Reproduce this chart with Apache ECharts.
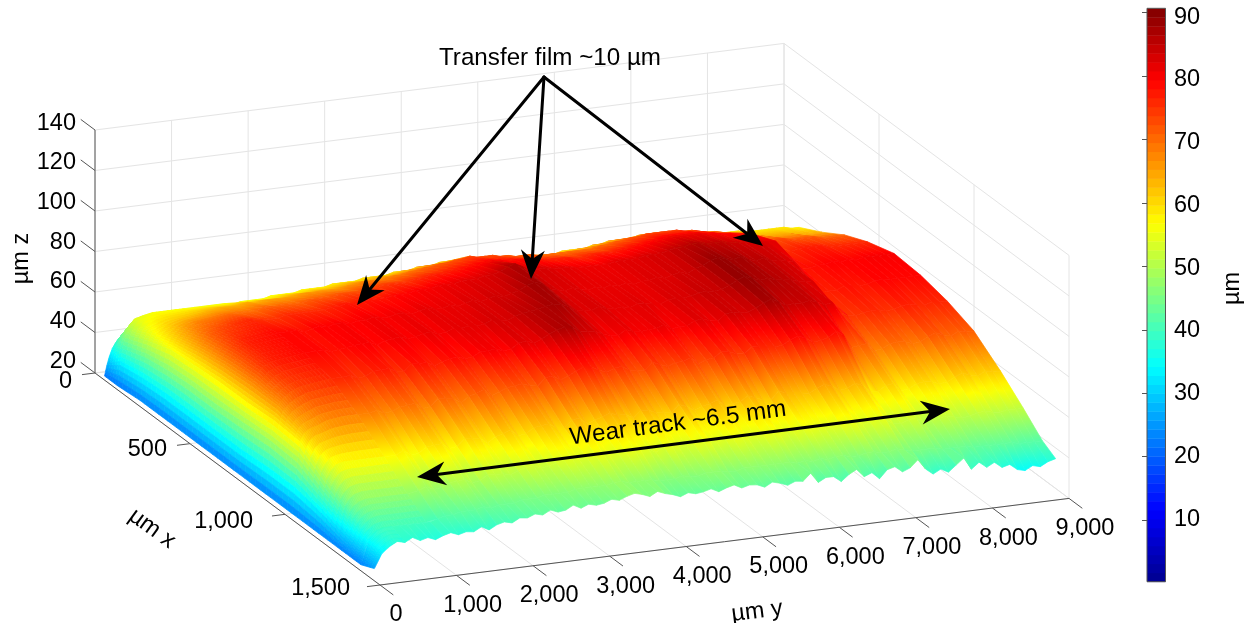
<!DOCTYPE html>
<html><head><meta charset="utf-8">
<style>html,body{margin:0;padding:0;background:#fff}#c{width:1249px;height:623px}</style>
<script src="https://cdn.jsdelivr.net/npm/echarts@6/dist/echarts.min.js"></script>
</head><body><div id="c"></div>
<script>
const xTicks=[0,500,1000,1500];
const yTicks=[0,1000,2000,3000,4000,5000,6000,7000,8000,9000];
const zTicks=[20,40,60,80,100,120,140];
const colourTicks=[10,20,30,40,50,60,70,80,90];
const xNodes=[50,120,240,360,480,620,760,900,1040,1180,1300,1400];
const rimNodes=[0,30,60,100,150,220,320,450,650,850];
const rimZ=[
[22,22,23,23,23,23,23,23,23,23,23,23],
[27,32,34,35,35,35,35,36,36,33,29,27],
[31,40,44,46,47,47,48,49,48,41,35,31],
[35,47,52,56,57,58,58,59,58,49,41,35],
[38,51,56,60,63,65,66,66,62,53,44,37],
[41,54,58,63,67,70,71,69,64,56,46,39],
[43,55,60,66,71,74,75,72,65,57,47,40],
[44,56,61,68,73,77,77,74,67,57,47,40],
[45,56,62,69,75,78,78,75,68,57,47,40],
[46,56,63,70,76,79,79,76,68,57,47,40]];
const trackStart=1000, trackStep=100;
const trackZ=[
[46,56,64,70,75,79,79,76,68,57,48,41],
[46,56,64,70,75,79,79,76.5,69,59,49.5,42],
[46,56,64,70,75,78,78,74.5,67,56,47.5,42],
[46,56,64,71,76,79,78.5,75,67.5,56.5,48,43],
[46,56,65,71,76,80,79,77,69,59,50,43],
[46,55,64,71,76,79,79.5,77,69.5,59.5,50,43],
[46,56,65,71,76,80,80,77.5,70,60,50.5,44],
[46,56,65,71,76,80,80,75.5,67,57,48.5,43],
[46,56,65,71,76,79,78.5,75,67.5,57.5,49,44],
[47,56,65,72,77,80,80,78.5,71,61,51.5,44],
[47,57,65,72,77,80,80.5,78,70.5,60.5,51,44],
[47,57,66,72,78,81,81,78,70,60,51,45],
[47,57,66,72,77,80,79.5,76,67.5,57.5,50,45],
[47,57,66,73,78,80,80,77.5,70,60,51.5,45],
[48,58,66,73,78,81,81,78.5,71,61,52.5,46],
[48,58,66,73,78,81,81.5,79,72.5,62.5,53,46],
[48,58,66,73,78,80,80,77.5,69,59,51.5,46],
[48,58,67,74,79,81,80.5,78,70.5,59.5,52,46],
[48,59,67,74,79,82,82,80,72,62,53,47],
[48,59,68,75,79,81,81.5,80,72.5,62.5,54,47],
[49,59,68,75,80,81,82,80.5,73,63,54.5,47],
[49,59,68,75,80,82,81.5,79,71.5,60.5,53,47],
[49,60,68,75,80,81,82,79.5,71,60,53.5,47],
[49,60,69,76,81,82,83.5,82,74.5,63.5,55,48],
[50,60,69,76,81,83,83,82.5,75,64,55.5,48],
[50,60,70,77,81,82,82.5,81,72.5,60.5,53,47],
[50,61,70,77,82,83,84,82.5,74,62,54.5,47],
[50,61,71,77,82,84,85,84.5,76,63,54.5,47],
[51,61,71,78,82,83,85.5,86,77.5,64.5,56,47],
[51,62,72,78,83,84,86,87,77,63,54,46],
[51,62,72,79,83,85,87,86.5,75,63,54.5,46],
[51,62,73,79,84,87,87.5,84,73.5,60.5,52,46],
[52,63,73,80,86,88,87,83.5,75,64,54.5,47],
[52,63,74,80,87,87,85.5,83,75.5,63.5,55,46],
[52,63,73,80,85,84,83,81,73,62,53,46],
[52,63,73,79,83,83,82.5,80,72.5,61.5,53,47],
[51,62,73,79,83,82,82,79.5,72,61,53.5,47],
[51,62,72,79,83,83,83.5,82,75.5,64.5,56,47],
[51,62,72,78,82,82,82,80.5,74,63,54.5,46],
[51,62,71,78,82,81,81.5,80,72.5,60.5,53,46],
[50,61,71,77,82,82,82,80.5,74,62,54.5,47],
[50,61,71,77,81,81,81,80.5,74,63,54.5,47],
[50,61,70,77,81,82,82.5,82,75.5,64.5,56,47],
[50,61,70,77,81,81,82,79.5,72,61,53.5,47],
[50,60,70,76,81,82,81.5,80,73.5,61.5,54,47],
[50,60,70,76,81,81,81,80,74,62,54,47],
[50,60,70,77,82,82,82.5,82,76.5,64.5,56,47],
[50,60,70,77,82,82,83,82.5,76,63,54.5,46],
[50,61,70,77,82,83,82.5,81,74.5,61.5,54,47],
[50,61,70,77,82,82,83,80.5,74,61,53.5,46],
[51,61,71,78,83,83,84,83.5,77,65,55.5,47],
[51,61,71,78,83,84,84.5,84,76.5,63.5,55,46],
[51,62,72,79,83,83,84,83,76,63,55,47],
[51,62,72,79,84,85,84.5,83,75.5,62.5,54,47],
[52,63,73,80,85,86,86,84.5,76,62,53.5,46],
[52,63,73,80,85,88,88,86.5,78,64,54.5,46],
[52,63,74,81,86,89,89.5,88,79.5,65.5,56,47],
[52,63,74,81,86,88,88,86,78,64,55,47],
[52,64,74,81,85,87,86.5,84,75.5,61.5,53,46],
[52,64,74,81,85,88,87,84.5,76,62,53.5,46],
[52,63,74,81,85,86,86,84,77,64,55,47],
[52,63,73,80,84,85,85.5,85,79.5,62.5,54,46],
[51,63,73,80,84,86,85,83.5,77,59,51.5,45],
[51,63,72,79,83,84,83.5,82,70.5,58.5,51,45],
[50,62,71,79,84,84,83,82.5,71,61,52.5,45],
[50,62,71,78,83,83,82.5,77,71.5,61.5,53,45],
[49,61,70,78,82,82,76.5,75,67.5,57.5,50,44],
[49,61,69,77,82,78,77,74.5,68,58,50.5,44],
[49,60,68,72,76,78,77,75.5,70,60,51.5,44],
[49,60,67,72,76,79,78.5,76,70.5,60.5,52,44],
[48,60,66,73,77,79,78,76,70,60,51,43],
[48,60,66,73,77,80,77.5,75,68.5,58.5,50,43],
[48,59,65,72,77,79,78,75.5,69,59,50.5,43],
[48,59,65,72,77,80,79,76.5,71,61,51.5,43],
[48,59,65,72,76,79,79.5,77,72.5,62.5,52,43],
[48,59,65,72,76,80,79,76,71,61,51,43],
[48,59,64,71,76,80,79,75.5,70,60,50.5,42],
[48,59,64,71,76,80,79,76.5,72,62,51.5,42],
[47,58,64,71,76,80,79,76,71,61,51,42],
[47,58,64,71,76,80,79,76,71,61,51,42]];
const yNodes=rimNodes.concat(trackZ.map((r,i)=>trackStart+i*trackStep));
const zByColumn=rimZ.concat(trackZ);
const frontX=1470;
const frontStep=100;
const frontEdgeZ=[26,33,36,38,37,39,37,38,36.5,38,39,37.5,38.5,38,40,38,40,41,40,42,
41.5,43,42,44,42.5,43,45,43,44.5,43.5,44,45.5,44.5,46,47,46,44.5,46.5,45,44,
42.5,44,43,43.5,44.5,42.6,44,45,43,44,43.6,42,44,43,41.5,43,42.5,46,41,43,
42.9,40,43,45,41,42.5,39,43,44,41,42.5,46,41,38,40,38,41,44,38,41,
38,40,37,38,35,34,36,35,37,38];

const FONT='"Liberation Sans", Arial, sans-serif';
const INK='#000';
const AXIS='#555';
const GRIDC='#e4e4e4';

function project(x,y,z){
  return [95+285*x/1500+689*y/9000, 373+212*x/1500-86.6*y/9000-(z-20)*40.5/20];
}
const jetStops=[[0,[0,0,143]],[.125,[0,0,255]],[.375,[0,255,255]],[.625,[255,255,0]],[.875,[255,0,0]],[1,[128,0,0]]];
const cMin=0.27,cMax=90.7;
function jetAt(t){
  t=Math.max(0,Math.min(1,t));
  for(let i=1;i<jetStops.length;i++){
    if(t<=jetStops[i][0]){
      const a=jetStops[i-1],b=jetStops[i],f=(t-a[0])/(b[0]-a[0]);
      return 'rgb('+a[1].map((v,k)=>Math.round(v+(b[1][k]-v)*f)).join(',')+')';
    }
  }
  return 'rgb(128,0,0)';
}
function jet(z){return jetAt((z-cMin)/(cMax-cMin));}
function shade(m0,m1,e,z0,z1){
  const el=Math.hypot(e[0],e[1])||1,nx=-e[1]/el,ny=e[0]/el;
  const d=(m1[0]-m0[0])*nx+(m1[1]-m0[1])*ny;
  const stops=[];
  for(let i=0;i<=6;i++){stops.push({offset:i/6,color:jet(z0+(z1-z0)*i/6)});}
  return {type:'linear',global:true,x:m0[0],y:m0[1],x2:m0[0]+nx*d,y2:m0[1]+ny*d,colorStops:stops};
}
const mid=(p,q)=>[(p[0]+q[0])/2,(p[1]+q[1])/2];
function quad(api,a,b,c,d){
  const P=[a,b,c,d].map(p=>api.coord(project(p[0],p[1],p[2])));
  const fill=shade(mid(P[0],P[1]),mid(P[3],P[2]),[P[1][0]-P[0][0]+P[2][0]-P[3][0],P[1][1]-P[0][1]+P[2][1]-P[3][1]],(a[2]+b[2])/2,(c[2]+d[2])/2);
  return {type:'polygon',shape:{points:P},style:{fill:fill,stroke:fill,lineWidth:0.7}};
}
// smooth (Gouraud-like) shading of one mesh cell for the steep rim of the track
function smoothQuad(api,a,b,c,d,nu,nv){
  const ch=[];
  const at=(u,v)=>[0,1,2].map(i=>(1-u)*((1-v)*a[i]+v*b[i])+u*((1-v)*d[i]+v*c[i]));
  for(let i=0;i<nu;i++){for(let j=0;j<nv;j++){
    const A=at(i/nu,j/nv),B=at(i/nu,(j+1)/nv),C=at((i+1)/nu,(j+1)/nv),D=at((i+1)/nu,j/nv);
    const pts=[A,B,C,D].map(p=>api.coord(project(p[0],p[1],p[2])));
    const col=jet((A[2]+B[2]+C[2]+D[2])/4);
    ch.push({type:'polygon',shape:{points:pts},style:{fill:col,stroke:col,lineWidth:0.7}});
  }}
  return {type:'group',children:ch};
}
const surfaceCells=[];
for(let r=0;r<xNodes.length-1;r++){for(let c=yNodes.length-2;c>=0;c--){surfaceCells.push([r,c]);}}
function renderSurface(params,api){
  const r=api.value(0),c=api.value(1);
  const x0=xNodes[r],x1=xNodes[r+1],y0=yNodes[c],y1=yNodes[c+1];
  const a=[x0,y1,zByColumn[c+1][r]],b=[x0,y0,zByColumn[c][r]],cc=[x1,y0,zByColumn[c][r+1]],d=[x1,y1,zByColumn[c+1][r+1]];
  if(c<rimNodes.length-1)return smoothQuad(api,a,b,cc,d,5,4);
  return quad(api,a,b,cc,d);
}
function nearestRowZ(y){
  let best=0;
  yNodes.forEach((v,i)=>{if(Math.abs(v-y)<Math.abs(yNodes[best]-y))best=i;});
  return zByColumn[best][xNodes.length-1];
}
const frontCells=[];
for(let i=frontEdgeZ.length-2;i>=0;i--){frontCells.push([i,0]);}
function renderFront(params,api){
  const i=api.value(0),y0=i*frontStep,y1=(i+1)*frontStep,xb=xNodes[xNodes.length-1];
  const a=[xb,y1,nearestRowZ(y1)],b=[xb,y0,nearestRowZ(y0)],c=[frontX,y0,frontEdgeZ[i]],d=[frontX,y1,frontEdgeZ[i+1]];
  if(i<4)return smoothQuad(api,a,b,c,d,4,8);
  return quad(api,a,b,c,d);
}
function seg(api,a,b,color,w){
  const p=api.coord(project(a[0],a[1],a[2])),q=api.coord(project(b[0],b[1],b[2]));
  return {type:'line',shape:{x1:p[0],y1:p[1],x2:q[0],y2:q[1]},style:{stroke:color,lineWidth:w}};
}
function renderWalls(params,api){
  const ch=[];
  const X=1500,Y=9000,zb=20,zt=140;
  zTicks.forEach(z=>{ch.push(seg(api,[0,0,z],[0,Y,z],GRIDC,1));ch.push(seg(api,[0,Y,z],[X,Y,z],GRIDC,1));});
  yTicks.forEach(y=>{ch.push(seg(api,[0,y,zb],[0,y,zt],GRIDC,1));ch.push(seg(api,[0,y,zb],[X,y,zb],GRIDC,1));});
  xTicks.forEach(x=>{ch.push(seg(api,[x,Y,zb],[x,Y,zt],GRIDC,1));ch.push(seg(api,[x,0,zb],[x,Y,zb],GRIDC,1));});
  return {type:'group',children:ch};
}
function label(api,text,sx,sy,align,rot,size){
  const p=api.coord([sx,sy+1.5]);
  return {type:'text',x:p[0],y:p[1],rotation:rot||0,style:{text:text,fill:INK,font:(size||23.5)+'px '+FONT,align:align,verticalAlign:'middle'}};
}
const fmt=v=>String(v).replace(/\B(?=(\d{3})+$)/g,',');
function renderAxes(params,api){
  const ch=[];
  const X=1500;
  ch.push(seg(api,[0,0,20],[0,0,140],AXIS,1));
  ch.push(seg(api,[0,0,20],[X,0,20],AXIS,1));
  ch.push(seg(api,[X,0,20],[X,9000,20],AXIS,1));
  zTicks.forEach(z=>{
    ch.push(seg(api,[0,0,z],[-75,0,z],AXIS,1));
    ch.push(label(api,String(z),76,121.7+(140-z)/20*39.7,'right'));
  });
  const xOff=[[-23,7],[-23,4],[-32,6],[-30,2]];
  xTicks.forEach((x,i)=>{
    ch.push(seg(api,[x,0,20],[x,-170,20],AXIS,1));
    const p=project(x,0,20);
    ch.push(label(api,fmt(x),p[0]+xOff[i][0],p[1]+xOff[i][1],'right'));
  });
  yTicks.forEach(y=>{
    ch.push(seg(api,[X,y,20],[X+70,y,20],AXIS,1));
    const p=project(X,y,20);
    ch.push(label(api,fmt(y),p[0]+16,p[1]+28.5,'center'));
  });
  colourTicks.forEach(v=>{ch.push(label(api,String(v),1174,15.7+(90-v)*6.275,'left'));});
  ch.push(label(api,'\u00b5m z',22,257,'center',Math.PI/2));
  ch.push(label(api,'\u00b5m x',152,527,'center',-36*Math.PI/180));
  ch.push(label(api,'\u00b5m y',757,610,'center',7*Math.PI/180));
  ch.push(label(api,'\u00b5m',1233,287,'center',Math.PI/2));
  return {type:'group',children:ch};
}
const arrowOrigin=[544,77];
const filmTips=[[357,305],[531,279],[763,246]];
const wearTips=[[417,477],[950,409]];
function head(api,tip,from){
  const dx=tip[0]-from[0],dy=tip[1]-from[1],l=Math.hypot(dx,dy),ux=dx/l,uy=dy/l;
  const L=29,H=12,N=20;
  const pt=(a,b)=>api.coord([tip[0]-ux*a-uy*b,tip[1]-uy*a+ux*b]);
  return {type:'polygon',shape:{points:[pt(0,0),pt(L,H),pt(N,0),pt(L,-H)]},style:{fill:'#000'}};
}
function arrowLine(api,a,b){
  const p=api.coord(a),q=api.coord(b);
  return {type:'line',shape:{x1:p[0],y1:p[1],x2:q[0],y2:q[1]},style:{stroke:'#000',lineWidth:3,lineCap:'round'}};
}
function shorten(a,b,n){const d=Math.hypot(b[0]-a[0],b[1]-a[1]);return [b[0]-(b[0]-a[0])/d*n,b[1]-(b[1]-a[1])/d*n];}
function renderNotes(params,api){
  const ch=[];
  filmTips.forEach(t=>{ch.push(arrowLine(api,arrowOrigin,shorten(arrowOrigin,t,20)));ch.push(head(api,t,arrowOrigin));});
  ch.push(arrowLine(api,shorten(wearTips[1],wearTips[0],20),shorten(wearTips[0],wearTips[1],20)));
  ch.push(head(api,wearTips[0],wearTips[1]));ch.push(head(api,wearTips[1],wearTips[0]));
  ch.push(label(api,'Transfer film ~10 \u00b5m',550,57,'center',0,24.2));
  ch.push(label(api,'Wear track ~6.5 mm',678,422,'center',7.6*Math.PI/180,24.2));
  return {type:'group',children:ch};
}
const colourLevels=[];for(let i=0;i<64;i++)colourLevels.push([0,i]);
function renderBar(params,api){
  const i=api.value(1),st=(cMax-cMin)/64;
  const lo=cMin+i*st,hi=lo+st;
  const a=api.coord([0,hi]),b=api.coord([1,lo]);
  return {type:'rect',shape:{x:a[0],y:a[1],width:b[0]-a[0],height:b[1]-a[1]+0.4},style:{fill:jetAt((i+.5)/64)}};
}
function renderFrame(params,api){
  const a=api.coord([0,cMax]),b=api.coord([1,cMin]);
  return {type:'rect',shape:{x:a[0],y:a[1],width:b[0]-a[0],height:b[1]-a[1]},style:{fill:'none',stroke:AXIS,lineWidth:1}};
}
const custom=(renderItem,data,z,grid)=>({type:'custom',renderItem,data,z,clip:false,silent:true,animation:false,progressive:0,xAxisIndex:grid||0,yAxisIndex:grid||0,coordinateSystem:'cartesian2d'});
const chart=echarts.init(document.getElementById('c'),null,{renderer:'canvas'});
chart.setOption({
  animation:false,backgroundColor:'#fff',
  grid:[{left:0,right:0,top:0,bottom:0},{left:1147,width:18.5,top:8.3,height:575.1}],
  xAxis:[{type:'value',min:0,max:1249,show:false},{type:'value',gridIndex:1,min:0,max:1,show:false}],
  yAxis:[{type:'value',min:0,max:623,inverse:true,show:false},
    {type:'value',gridIndex:1,min:0,max:cMax,position:'right',splitLine:{show:false},axisLine:{show:false},
     axisTick:{show:true,inside:true,length:5,lineStyle:{color:AXIS},customValues:colourTicks},
     axisLabel:{show:false}}],
  series:[
    custom(renderWalls,[[0,0]],1),
    custom(renderSurface,surfaceCells,2),
    custom(renderFront,frontCells,2),
    custom(renderAxes,[[0,0]],3),
    custom(renderBar,colourLevels,3,1),
    custom(renderFrame,[[0,0]],4,1),
    custom(renderNotes,[[0,0]],5)
  ]
});
</script></body></html>
